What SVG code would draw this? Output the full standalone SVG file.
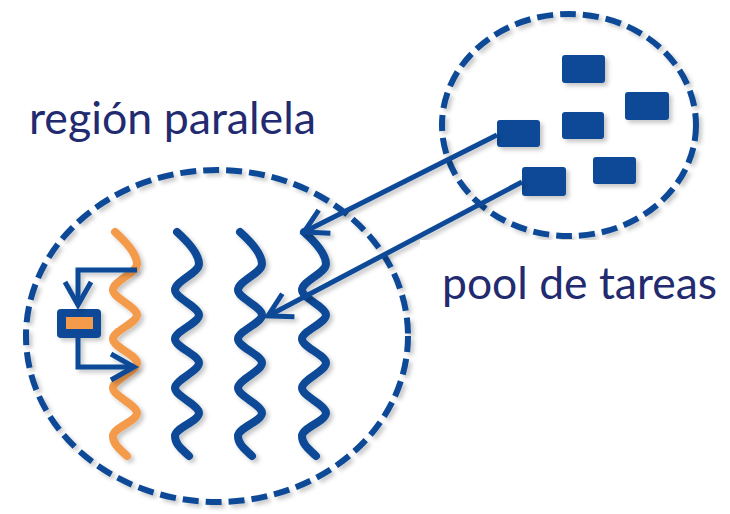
<svg xmlns="http://www.w3.org/2000/svg" width="730" height="514" viewBox="0 0 730 514">
  <style>
    .dash { fill: none; stroke: #0b4a96; stroke-width: 6; stroke-dasharray: 16 7; }
    .thread { fill: none; stroke-width: 8; stroke-linecap: round; stroke-linejoin: round; }
    .blue { stroke: #0b4a96; }
    .orange { stroke: #f39a4c; }
    .task { fill: #0b4a96; }
    .conn { fill: none; stroke: #0b4a96; stroke-width: 5; stroke-linejoin: miter; }
    .label { font-family: Lato, "Open Sans", "Liberation Sans", sans-serif; font-size: 45px; fill: #222a70; }
  </style>
  <defs>
    <filter id="sh" x="-20%" y="-20%" width="140%" height="140%">
      <feDropShadow dx="3" dy="3" stdDeviation="2" flood-color="#000" flood-opacity="0.22"/>
    </filter>
    <path id="wave" d="M2,232 C12,241 24,254 24,264 C24,273 0,281 0,290 C0,298 24,307 24,315 C24,323 0,331 0,339 C0,347 24,355 24,363 C24,371 0,380 0,388 C0,396 24,405 24,413 C24,421 0,428 0,436 C0,445 8,450 14,456"/>
    <marker id="head" markerUnits="userSpaceOnUse" markerWidth="30" markerHeight="30" refX="0" refY="0" viewBox="-26 -15 30 30" orient="auto" overflow="visible">
      <path d="M-23,-13 L0,0 L-23,13" fill="none" stroke="#0b4a96" stroke-width="5" stroke-linejoin="miter"/>
    </marker>
  </defs>
  <rect width="730" height="514" fill="#ffffff"/>

  <g id="task-pool" filter="url(#sh)">
    <ellipse class="dash" cx="569" cy="125" rx="127" ry="111"/>
    <rect class="task" x="562" y="55" width="43" height="28" rx="3"/>
    <rect class="task" x="625" y="92" width="44" height="28" rx="3"/>
    <rect class="task" x="562" y="112" width="42" height="27" rx="3"/>
    <rect class="task" x="497" y="120" width="43" height="27" rx="3"/>
    <rect class="task" x="593" y="157" width="43" height="27" rx="3"/>
    <rect class="task" x="522" y="167" width="44" height="29" rx="3"/>
  </g>

  <g id="parallel-region" filter="url(#sh)">
    <ellipse class="dash" cx="217" cy="336" rx="191" ry="166"/>
    <use href="#wave" class="thread orange" x="113"/>
    <use href="#wave" class="thread blue" x="175"/>
    <use href="#wave" class="thread blue" x="238"/>
    <use href="#wave" class="thread blue" x="302"/>
    <g id="spawned-task">
      <rect x="57" y="309" width="44" height="29" rx="4" fill="#0b4a96"/>
      <rect x="66" y="317" width="27" height="12" fill="#f39a4c"/>
    </g>
  </g>

  <g id="connectors" filter="url(#sh)">
    <path class="conn" d="M497,135 L304,232" marker-end="url(#head)"/>
    <path class="conn" d="M522,182 L268,316" marker-end="url(#head)"/>
    <path class="conn" d="M137,270 H78 V305" marker-end="url(#head)"/>
    <path class="conn" d="M78,338 V367 H134" marker-end="url(#head)"/>
  </g>

  <g id="label-region">
    <text class="label" x="29" y="134" textLength="287" lengthAdjust="spacingAndGlyphs">región paralela</text>
  </g>
  <g id="label-pool">
    <rect x="420" y="240" width="310" height="90" fill="#ffffff"/>
    <text class="label" x="442" y="299" textLength="275" lengthAdjust="spacingAndGlyphs">pool de tareas</text>
  </g>
</svg>
